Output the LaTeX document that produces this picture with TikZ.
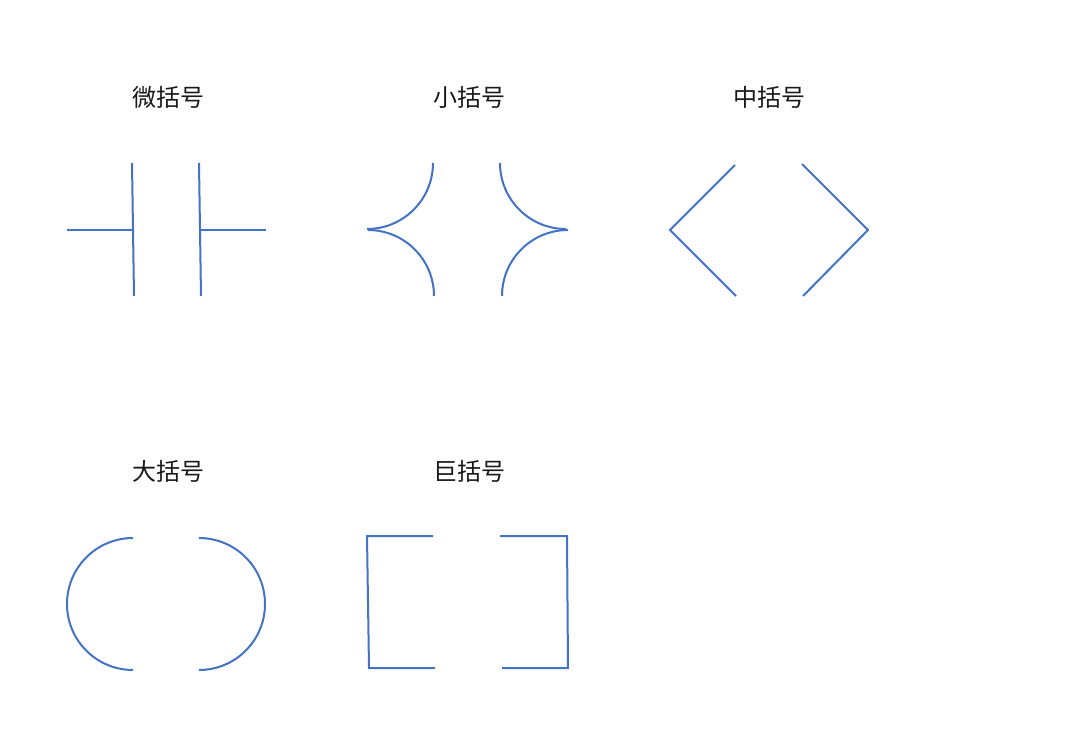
\documentclass[tikz,border=0pt]{standalone}
\usepackage{fontspec}
\usepackage{xcolor}
\usepackage{tikz}
\newfontfamily\cjk{Noto Sans CJK SC}
\definecolor{brkblue}{HTML}{4472C4}

\begin{document}
\begin{tikzpicture}[x=1pt, y=-1pt,
    brk/.style = {draw=brkblue, line width=2pt},
    head/.style = {font=\cjk\fontsize{24}{28}\selectfont, text=black!90}]
      \useasboundingbox (0,0) rectangle (1080,747);

      \node[head] (wei) at (168,97) {微括号};
      \node[head] (xiao) at (469,97) {小括号};
      \node[head] (zhong) at (769,97) {中括号};
      \node[head] (da) at (168,471) {大括号};
      \node[head] (ju) at (469,471) {巨括号};

      % 微括号
      \draw[brk] (132,163) -- (134,296);
      \draw[brk] (67,230) -- (133,230);
      \draw[brk] (199,163) -- (201,296);
      \draw[brk] (201,230) -- (266,230);

      % 小括号
      \draw[brk] (433,163) arc[start angle=0, end angle=90, radius=66];
      \draw[brk] (368,230) arc[start angle=-90, end angle=0, radius=66];
      \draw[brk] (500,163) arc[start angle=180, end angle=90, radius=66];
      \draw[brk] (568,230) arc[start angle=-90, end angle=-180, radius=66];

      % 中括号
      \draw[brk] (735,165) -- (670,230) -- (736,296);
      \draw[brk] (802,164) -- (868,230) -- (803,296);

      % 大括号
      \draw[brk] (133,538) arc[start angle=-90, end angle=-270, radius=66];
      \draw[brk] (199,538) arc[start angle=-90, end angle=90, radius=66];

      % 巨括号
      \draw[brk] (433,536) -- (367,536) -- (369,668) -- (435,668);
      \draw[brk] (500,536) -- (567,536) -- (568,668) -- (502,668);
    \end{tikzpicture}
\end{document}
